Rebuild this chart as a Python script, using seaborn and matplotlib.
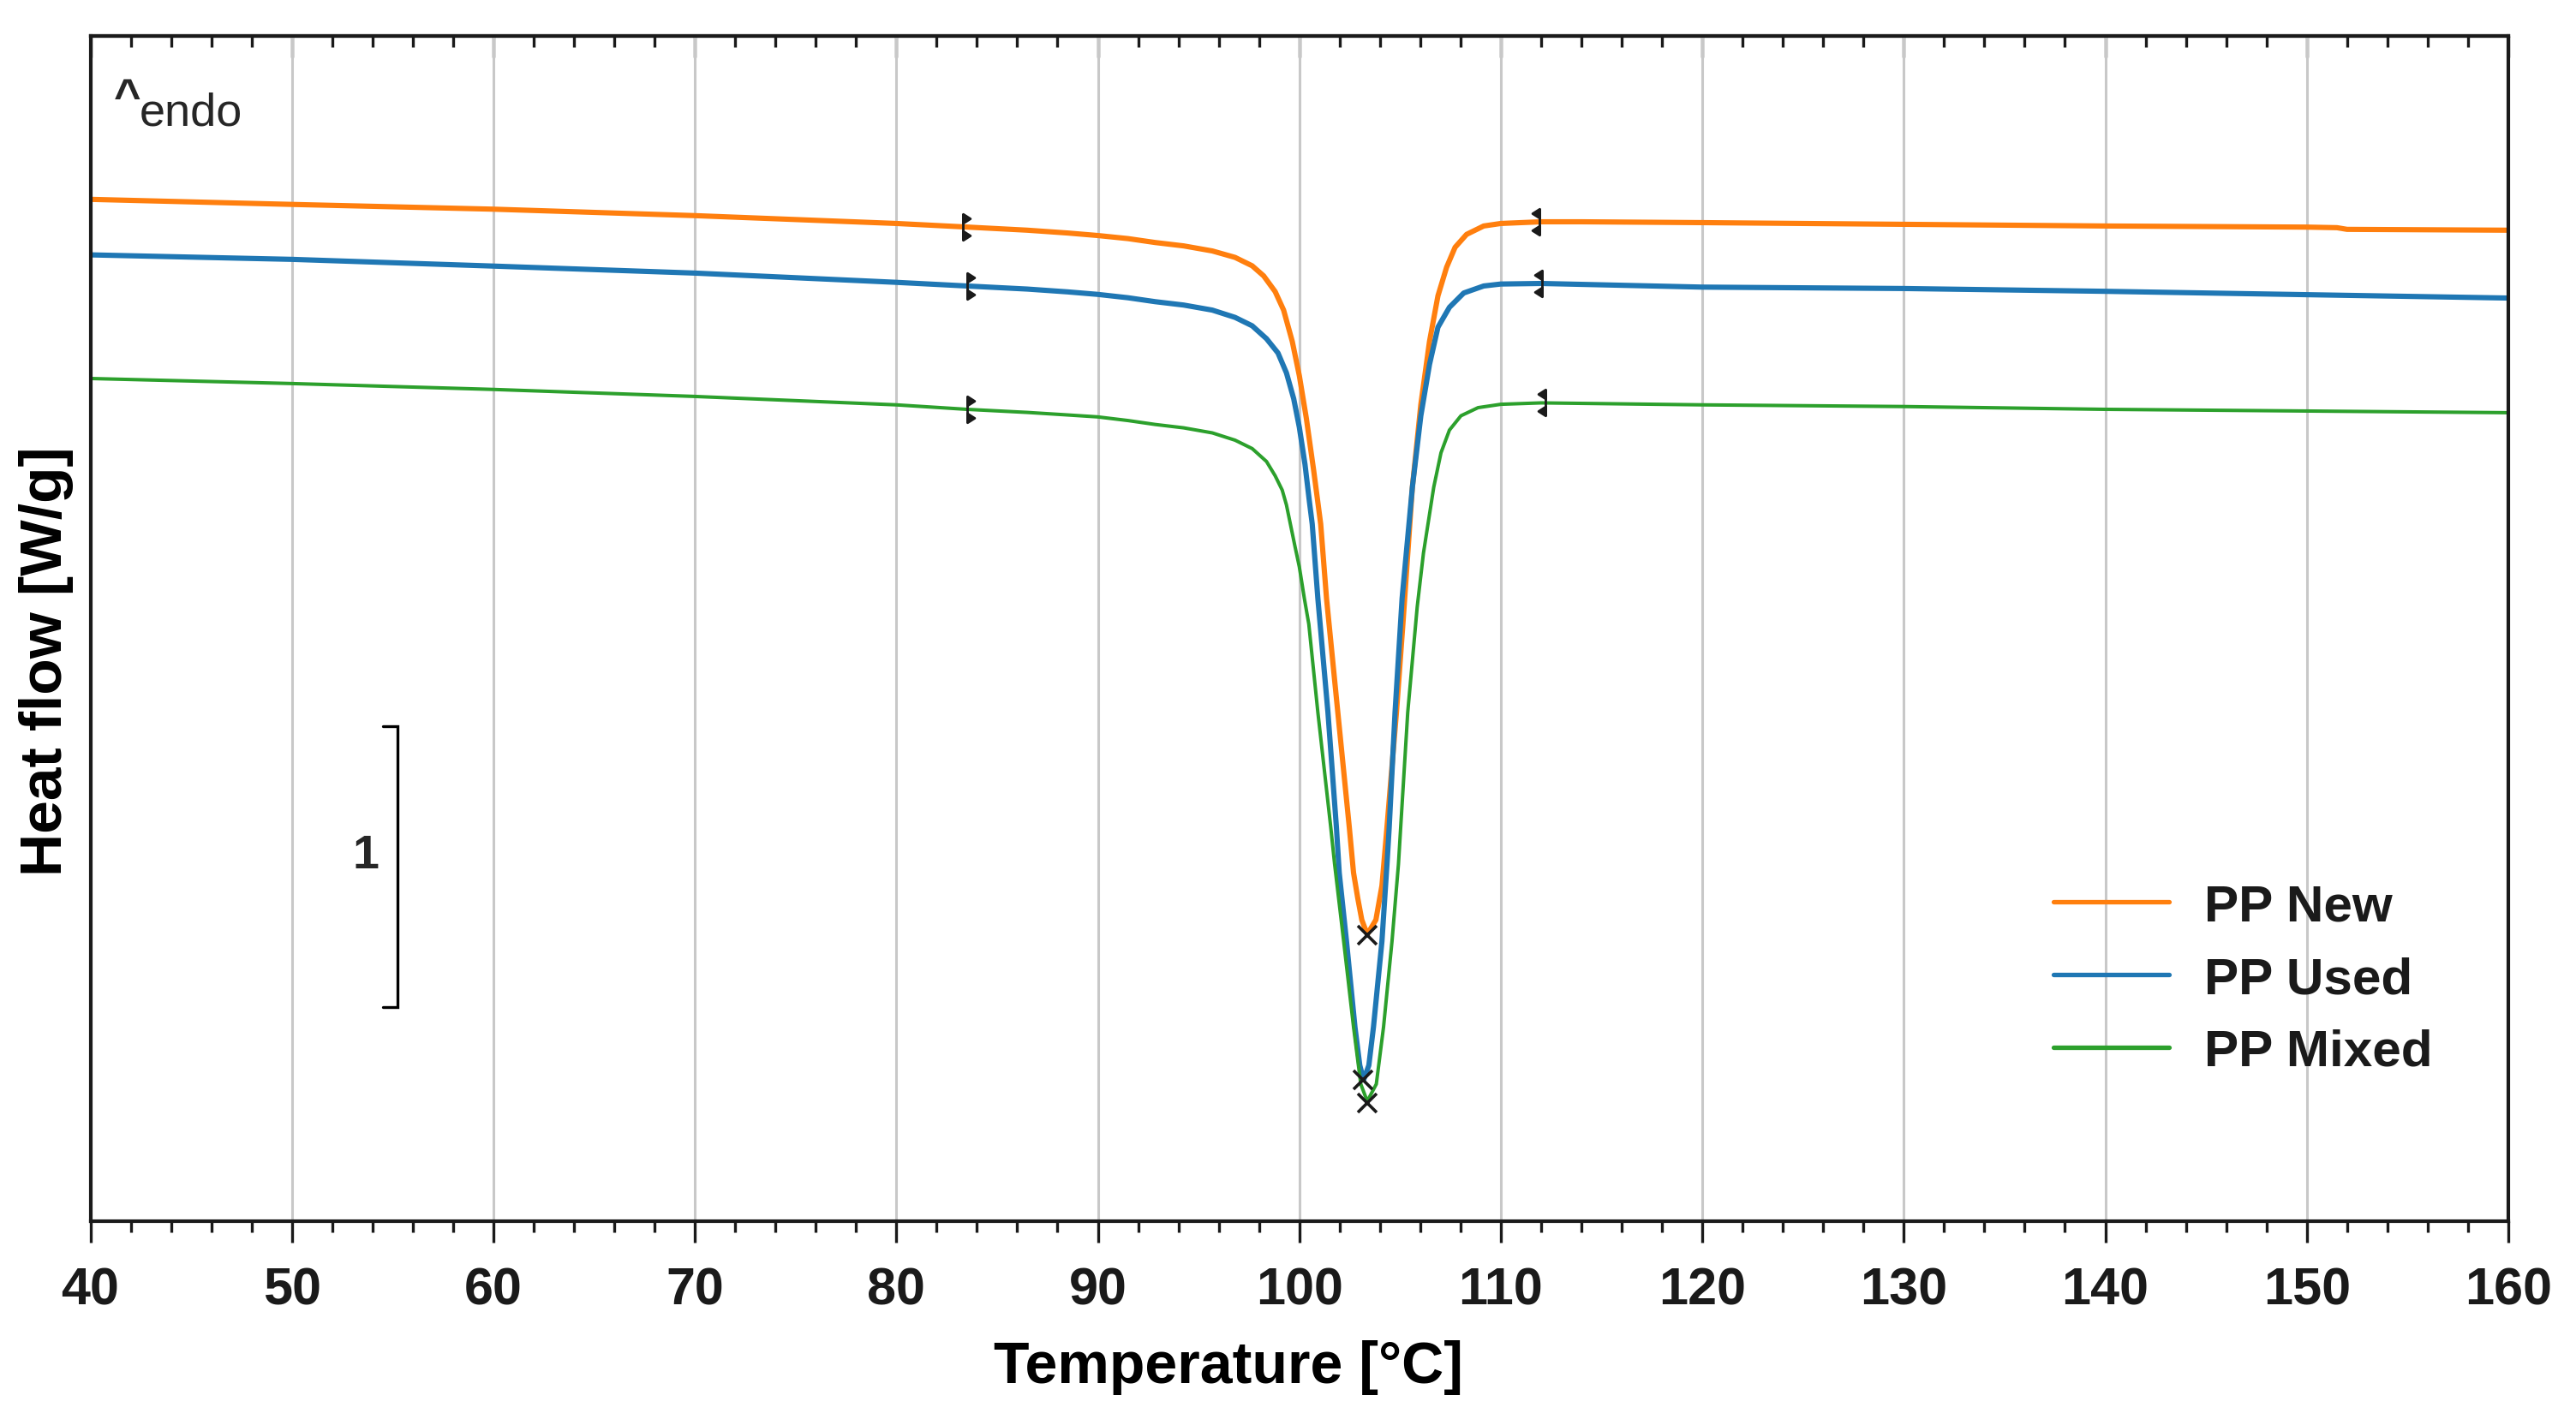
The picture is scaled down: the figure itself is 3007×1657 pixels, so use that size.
import numpy as np
import pandas as pd
import seaborn as sns
import matplotlib.pyplot as plt
from matplotlib.path import Path
from matplotlib.ticker import MultipleLocator

# DSC curves (heat flow in W/g, arbitrary offset, endo up)
t_new = [40, 50, 60, 70, 80, 83.3, 86.5, 88.5, 90, 91.5, 92.85, 94.26, 95.68, 96.81,
         97.66, 98.23, 98.8, 99.22, 99.65, 100.0, 100.35, 100.71, 101.06, 101.35, 101.91,
         102.48, 102.69, 102.9, 103.1, 103.37, 103.8, 104.1, 104.32, 104.82, 105.14,
         105.61, 106.03, 106.46, 106.88, 107.31, 107.73, 108.3, 109.15, 110, 112, 114,
         120, 130, 140, 150, 151.5, 152, 160]
hf_new = [1.880, 1.862, 1.845, 1.822, 1.794, 1.782, 1.770, 1.760, 1.751, 1.740, 1.726,
          1.714, 1.696, 1.673, 1.643, 1.607, 1.551, 1.485, 1.373, 1.251, 1.098, 0.914,
          0.722, 0.456, 0.050, -0.360, -0.522, -0.613, -0.690, -0.742, -0.690, -0.568,
          -0.385, 0.050, 0.365, 0.853, 1.148, 1.373, 1.536, 1.638, 1.709, 1.755, 1.785,
          1.794, 1.800, 1.800, 1.797, 1.791, 1.785, 1.781, 1.779, 1.773, 1.770]

t_used = [40, 50, 60, 70, 80, 83.5, 86.5, 88.5, 90, 91.5, 92.85, 94.26, 95.68, 96.81,
          97.66, 98.37, 98.94, 99.36, 99.72, 100.0, 100.28, 100.5, 100.64, 100.92, 101.42,
          101.84, 101.98, 102.34, 102.76, 103.0, 103.19, 103.45, 103.68, 104.1, 104.35,
          104.46, 104.75, 105.1, 105.61, 106.03, 106.46, 106.88, 107.45, 108.16, 109.15,
          110, 112, 120, 130, 140, 150, 160]
hf_used = [1.682, 1.666, 1.642, 1.617, 1.584, 1.571, 1.560, 1.550, 1.541, 1.529, 1.515,
           1.503, 1.485, 1.459, 1.429, 1.383, 1.332, 1.261, 1.169, 1.067, 0.935, 0.802,
           0.722, 0.456, 0.050, -0.360, -0.522, -0.766, -1.072, -1.209, -1.261, -1.209,
           -1.072, -0.766, -0.491, -0.360, 0.050, 0.456, 0.853, 1.108, 1.291, 1.424,
           1.495, 1.546, 1.571, 1.578, 1.580, 1.567, 1.562, 1.552, 1.540, 1.528]

t_mixed = [40, 50, 60, 70, 80, 83.5, 86.5, 88.5, 90, 91.5, 92.85, 94.26, 95.68, 96.81,
           97.66, 98.37, 98.8, 99.15, 99.36, 99.79, 100.0, 100.25, 100.47, 100.92, 101.56,
           101.75, 102.2, 102.69, 103.05, 103.37, 103.82, 104.18, 104.6, 104.92, 105.03,
           105.38, 105.85, 106.16, 106.67, 107.03, 107.45, 108.02, 108.87, 110, 112, 120,
           130, 140, 150, 160]
hf_mixed = [1.241, 1.223, 1.202, 1.177, 1.147, 1.131, 1.120, 1.111, 1.104, 1.091, 1.077,
            1.065, 1.047, 1.021, 0.991, 0.945, 0.894, 0.843, 0.790, 0.640, 0.569, 0.456,
            0.365, 0.050, -0.360, -0.491, -0.766, -1.072, -1.276, -1.337, -1.276, -1.072,
            -0.766, -0.491, -0.360, 0.050, 0.426, 0.618, 0.853, 0.976, 1.057, 1.108,
            1.137, 1.149, 1.154, 1.147, 1.141, 1.131, 1.125, 1.119]

samples = ['PP New', 'PP Used', 'PP Mixed']
# onset / endset / peak evaluation points
onset_t = [83.3, 83.5, 83.5]
onset_hf = [1.782, 1.571, 1.131]
end_t = [111.9, 112.05, 112.2]
end_hf = [1.800, 1.580, 1.154]
peak_t = [103.37, 103.16, 103.37]
peak_hf = [-0.745, -1.261, -1.343]

colors = {'PP New': '#ff7f0e', 'PP Used': '#1f77b4', 'PP Mixed': '#2ca02c'}
widths = {'PP New': 2.2, 'PP Used': 2.2, 'PP Mixed': 1.45}

curves = pd.concat([
    pd.DataFrame({'T': t_new, 'HF': hf_new, 'sample': 'PP New'}),
    pd.DataFrame({'T': t_used, 'HF': hf_used, 'sample': 'PP Used'}),
    pd.DataFrame({'T': t_mixed, 'HF': hf_mixed, 'sample': 'PP Mixed'}),
])

sns.set_style('white')
plt.rcParams['font.family'] = ['Liberation Sans', 'DejaVu Sans']
ink = '#1a1a1a'

fig = plt.figure(figsize=(3007 / 200, 1658 / 200), dpi=200)
ax = fig.add_axes([0.0351, 0.1393, 0.9386, 0.8348])

for s in samples:
    sns.lineplot(data=curves[curves['sample'] == s], x='T', y='HF', color=colors[s],
                 lw=widths[s], label=s, ax=ax, estimator=None, sort=False)

# bracket markers for onset (pointing right) and endset (pointing left)
def bracket(sign):
    v = [(0, -1), (0, 1),
         (0, 1), (sign * 0.55, 0.65), (0, 0.3), (0, 1),
         (0, -0.3), (sign * 0.55, -0.65), (0, -1), (0, -0.3)]
    c = [Path.MOVETO, Path.LINETO,
         Path.MOVETO, Path.LINETO, Path.LINETO, Path.CLOSEPOLY,
         Path.MOVETO, Path.LINETO, Path.LINETO, Path.CLOSEPOLY]
    return Path(v, c)

ax.plot(onset_t, onset_hf, ls='none', marker=bracket(1), ms=11, mfc=ink, mec=ink, mew=1.0, zorder=5)
ax.plot(end_t, end_hf, ls='none', marker=bracket(-1), ms=11, mfc=ink, mec=ink, mew=1.0, zorder=5)
ax.plot(peak_t, peak_hf, ls='none', marker='x', ms=8, mec=ink, mew=1.3, zorder=5)

# scale bar: 1 W/g
scale_x = 55.25
scale_top, scale_len, cap = 0.0, 1.0, 0.72
ax.plot([scale_x - cap, scale_x, scale_x, scale_x - cap],
        [scale_top, scale_top, scale_top - scale_len, scale_top - scale_len],
        color='black', lw=1.2, solid_joinstyle='miter')
ax.text(53.66, scale_top - 0.46 * scale_len, '1', fontsize=20, fontweight='bold',
        ha='center', va='center')

ax.text(0.0098, 0.937, '^', transform=ax.transAxes, fontsize=19.5, fontweight='bold',
        ha='left', va='baseline')
ax.text(0.0204, 0.925, 'endo', transform=ax.transAxes, fontsize=19.5,
        ha='left', va='baseline')

ax.set_xlim(40, 160)
ax.set_ylim(-1.765, 2.463)
ax.set_yticks([])
ax.xaxis.set_major_locator(MultipleLocator(10))
ax.xaxis.set_minor_locator(MultipleLocator(2))
ax.tick_params(axis='x', which='both', direction='out', bottom=True, top=False,
               width=1.2, color=ink, labelsize=22, labelcolor=ink, pad=10)
ax.tick_params(axis='x', which='major', length=9)
ax.tick_params(axis='x', which='minor', length=4.7)
for lab in ax.get_xticklabels():
    lab.set_fontweight('bold')

top = ax.secondary_xaxis('top')
top.xaxis.set_major_locator(MultipleLocator(10))
top.xaxis.set_minor_locator(MultipleLocator(2))
top.tick_params(which='both', direction='in', labeltop=False, width=1.2, color=ink)
top.tick_params(which='major', length=9)
top.tick_params(which='minor', length=4.7)
top.spines['top'].set_linewidth(1.5)
top.spines['top'].set_color(ink)

for sp in ax.spines.values():
    sp.set_linewidth(1.5)
    sp.set_color(ink)

ax.set_axisbelow(True)
ax.grid(axis='x', which='major', color='#c8c8c8', lw=1.1)

ax.set_xlabel('Temperature [°C]', fontsize=24.5, fontweight='bold', color='black')
ax.set_ylabel('Heat flow [W/g]', fontsize=25, fontweight='bold', color='black')
ax.xaxis.set_label_coords(0.4707, -0.100)
ax.yaxis.set_label_coords(-0.007, 0.4733)

leg = ax.legend(loc='upper left', bbox_to_anchor=(0.812, 0.285), frameon=False,
                borderpad=0, borderaxespad=0, handlelength=2.24, handletextpad=0.68,
                labelspacing=0.49, prop={'size': 21.7, 'weight': 'bold'})
for t in leg.get_texts():
    t.set_color(ink)
for h in leg.get_lines():
    h.set_linewidth(1.9)

fig.savefig('out.png', dpi=200, facecolor='white')
